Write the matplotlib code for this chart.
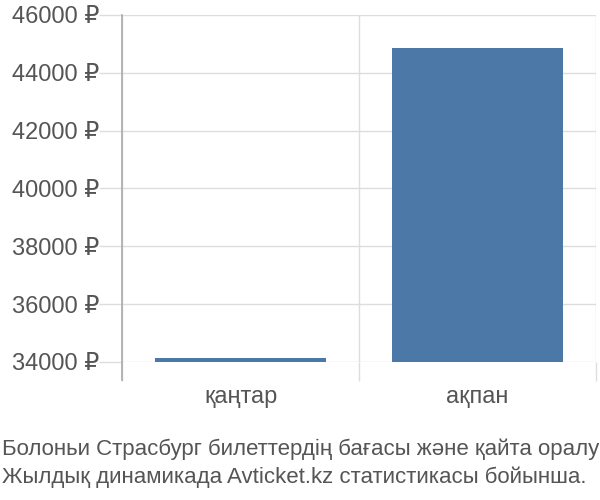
import matplotlib
matplotlib.use("Agg")
import matplotlib.pyplot as plt
from matplotlib.lines import Line2D

plt.rcParams['font.family'] = ['Liberation Sans', 'DejaVu Sans']

months = ["қаңтар", "ақпан"]
prices = [34150, 44860]
yticks = [34000, 36000, 38000, 40000, 42000, 44000, 46000]
baseline = 34000
caption = ["Болоньи Страсбург билеттердің бағасы және қайта оралу",
           "Жылдық динамикада Avticket.kz статистикасы бойынша."]

fig = plt.figure(figsize=(6, 5), dpi=100)
ax = fig.add_axes([122 / 600, 1 - 362 / 500, 474 / 600, 347 / 500])

x = range(len(months))
ax.bar(x, [p - baseline for p in prices], bottom=baseline, width=0.72,
       color="#4c78a8", zorder=3)

ax.set_xlim(-0.5, len(months) - 0.5)
ax.set_ylim(yticks[0], yticks[-1])
ax.set_yticks(yticks)
ax.set_yticklabels([f"{v} ₽" for v in yticks])
ax.set_xticks(list(x))
ax.set_xticklabels(months)
ax.set_xticks([i - 0.5 for i in range(len(months) + 1)], minor=True)

ax.tick_params(axis="y", length=16.5, color="#dddddd", width=1, pad=0,
               labelsize=17, labelcolor="#555555")
ax.tick_params(axis="x", which="major", length=0, pad=17,
               labelsize=17, labelcolor="#555555")
ax.tick_params(axis="x", which="minor", length=13.5, color="#dddddd", width=1)

ax.grid(axis="y", color="#dddddd", lw=1, zorder=0)
ax.grid(axis="x", which="minor", color="#dddddd", lw=1, zorder=0)

for s in ["top", "right", "bottom", "left"]:
    ax.spines[s].set_visible(False)
ax.add_line(Line2D([-0.5, -0.5], [-18 / 347, 1], transform=ax.get_xaxis_transform(),
                   color="#aaaaaa", lw=1.2, clip_on=False, zorder=4))

fig.text(2 / 600, 1 - 455 / 500, caption[0], fontsize=16, color="#555555",
         va="baseline", ha="left")
fig.text(2 / 600, 1 - 483 / 500, caption[1], fontsize=16, color="#555555",
         va="baseline", ha="left")

fig.savefig("out.png", dpi=100)
